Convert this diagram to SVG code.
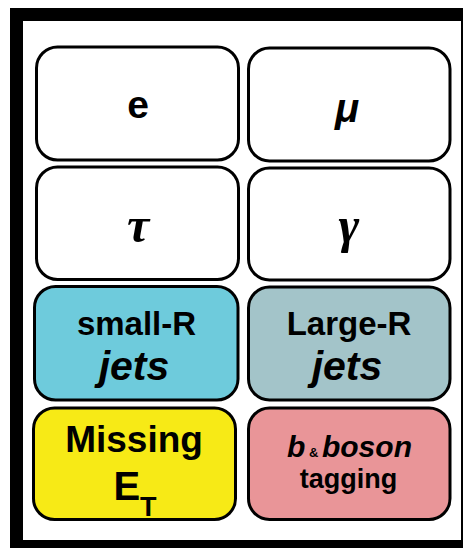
<svg xmlns="http://www.w3.org/2000/svg" width="463" height="548" viewBox="0 0 463 548">
<style>
.box{stroke:#000;stroke-width:3;}
.t{font-family:"Liberation Sans",Arial,sans-serif;font-weight:bold;fill:#000;text-anchor:middle;}
.it{font-style:italic;}
.serif{font-family:"Liberation Serif","Times New Roman",serif;}
</style>
<rect x="0" y="0" width="463" height="548" fill="#fff"/>
<rect x="10" y="8" width="453" height="540" fill="#000"/>
<rect x="23" y="21" width="438" height="519" fill="#fff"/>
<g id="node-e">
<rect class="box" x="36.5" y="47" width="202" height="113" rx="21" fill="#fff"/>
<text class="t" x="138" y="118" font-size="39">e</text>
</g>
<g id="node-mu">
<rect class="box" x="248.5" y="48" width="201.5" height="113" rx="21" fill="#fff"/>
<text class="t it" x="347" y="122" font-size="40">μ</text>
</g>
<g id="node-tau">
<rect class="box" x="36.5" y="167" width="202" height="112.5" rx="21" fill="#fff"/>
<text class="t it serif" x="138" y="242" font-size="50">τ</text>
</g>
<g id="node-gamma">
<rect class="box" x="248.5" y="168" width="201.5" height="112" rx="21" fill="#fff"/>
<text class="t it serif" x="349" y="242" font-size="50">γ</text>
</g>
<g id="node-smallR">
<rect class="box" x="34.5" y="286.5" width="203.5" height="113.5" rx="21" fill="#6ECBDC"/>
<text class="t" x="136.5" y="335" font-size="33">small-R</text>
<text class="t it" x="134" y="380" font-size="41">jets</text>
</g>
<g id="node-largeR">
<rect class="box" x="248.5" y="287" width="201.5" height="113" rx="21" fill="#A3C4C9"/>
<text class="t" x="349" y="335" font-size="33">Large-R</text>
<text class="t it" x="347" y="380" font-size="41">jets</text>
</g>
<g id="node-met">
<rect class="box" x="33.5" y="408" width="202" height="111.5" rx="21" fill="#F7EA16"/>
<text class="t" x="134" y="452" font-size="37">Missing</text>
<text class="t" x="135" y="500" font-size="40">E<tspan font-size="27" dy="16">T</tspan></text>
</g>
<g id="node-btag">
<rect class="box" x="248.5" y="408" width="201.5" height="111.5" rx="21" fill="#E99598"/>
<text class="t it" x="349.5" y="457" font-size="30">b<tspan font-size="13" font-style="normal"> &amp; </tspan>boson</text>
<text class="t" x="348.5" y="488" font-size="27">tagging</text>
</g>
<g id="connectors"></g>
</svg>
